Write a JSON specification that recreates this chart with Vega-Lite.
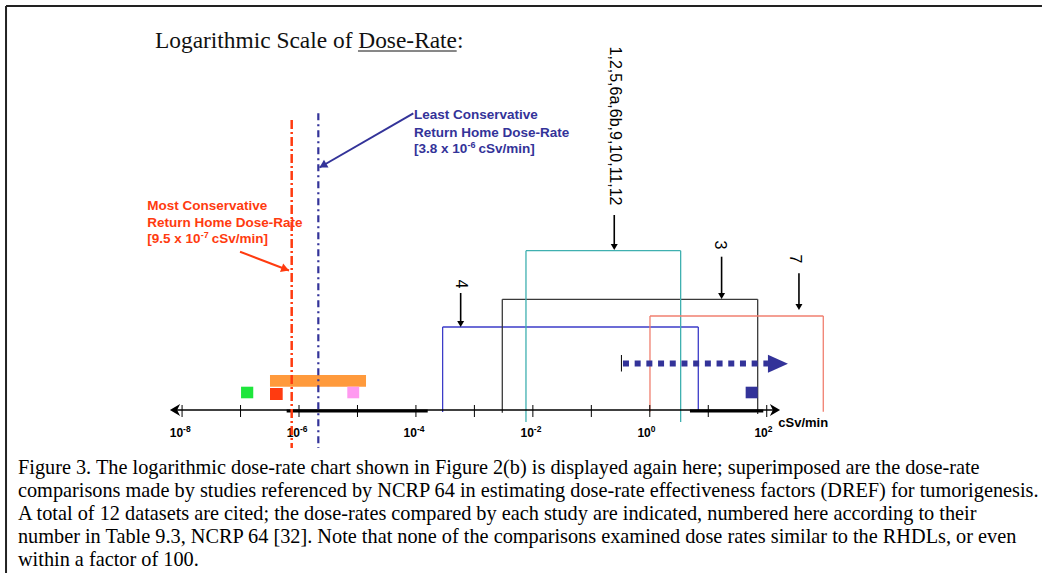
{
  "$schema": "https://vega.github.io/schema/vega-lite/v6.json",
  "width": 1042,
  "height": 573,
  "autosize": {"type": "none"},
  "padding": 0,
  "background": "white",
  "config": {"view": {"stroke": null}},
  "resolve": {"scale": {"color": "independent"}},
  "datasets": {
    "frame": [
      {"x": 9.75e-12, "x2": 5.1e6, "y": 404, "y2": 404},
      {"x": 9.75e-12, "x2": 9.75e-12, "y": 404, "y2": -163}
    ],
    "title": [{"x": 3.44e-9, "y": 362, "t": "Logarithmic Scale of Dose-Rate:"}],
    "underline": [{"x": 1.02e-5, "x2": 4.98e-4, "y": 359, "y2": 359}],
    "brackets": [
      {"b": "4", "x": 2.86e-4, "x2": 2.86e-4, "y": -2, "y2": 83},
      {"b": "4", "x": 2.86e-4, "x2": 6.75, "y": 83, "y2": 83},
      {"b": "4", "x": 6.75, "x2": 6.75, "y": 83, "y2": -1.5},
      {"b": "3", "x": 3.0e-3, "x2": 3.0e-3, "y": -2.7, "y2": 110.7},
      {"b": "3", "x": 3.0e-3, "x2": 70.0, "y": 110.7, "y2": 110.7},
      {"b": "3", "x": 70.0, "x2": 70.0, "y": 110.7, "y2": -4},
      {"b": "1-12", "x": 7.62e-3, "x2": 7.62e-3, "y": -12, "y2": 159.3},
      {"b": "1-12", "x": 7.62e-3, "x2": 3.37, "y": 159.3, "y2": 159.3},
      {"b": "1-12", "x": 3.37, "x2": 3.37, "y": 159.3, "y2": -12},
      {"b": "7", "x": 1.007, "x2": 1.007, "y": -1.7, "y2": 94},
      {"b": "7", "x": 1.007, "x2": 927, "y": 94, "y2": 94},
      {"b": "7", "x": 927, "x2": 927, "y": 94, "y2": -1.7}
    ],
    "axisline": [{"x": 6.73e-9, "x2": 155.6, "y": 0, "y2": 0}],
    "axisthick": [
      {"x": 6.15e-7, "x2": 1.59e-4, "y": -1, "y2": -1},
      {"x": 4.86, "x2": 87.3, "y": -1, "y2": -1}
    ],
    "ticks": [
      {"x": 1e-8, "y": 5, "y2": -7}, {"x": 1e-7, "y": 5, "y2": -7},
      {"x": 1e-6, "y": 5, "y2": -7}, {"x": 1e-5, "y": 5, "y2": -7},
      {"x": 1e-4, "y": 5, "y2": -7}, {"x": 1e-3, "y": 5, "y2": -7},
      {"x": 1e-2, "y": 5, "y2": -7}, {"x": 1e-1, "y": 5, "y2": -7},
      {"x": 1, "y": 5, "y2": -7}, {"x": 10, "y": 5, "y2": -7},
      {"x": 100, "y": 5, "y2": -7}
    ],
    "ticklabels": [
      {"x": 1e-8, "y": -23, "b": "10", "e": "-8"},
      {"x": 1e-6, "y": -23, "b": "10", "e": "-6"},
      {"x": 1e-4, "y": -23, "b": "10", "e": "-4"},
      {"x": 1e-2, "y": -23, "b": "10", "e": "-2"},
      {"x": 1, "y": -23, "b": "10", "e": "0"},
      {"x": 100, "y": -23, "b": "10", "e": "2"}
    ],
    "unit": [{"x": 157.4, "y": -12.7, "t": "cSv/min"}],
    "arrowL": [{"x": 7.57e-9, "y": 0}],
    "arrowR": [{"x": 138.3, "y": 0}],
    "redline": [{"x": 7.5e-7, "y": 290, "y2": -38}],
    "blueline": [{"x": 2.14e-6, "y": 296.7, "y2": -38}],
    "bluetext": [
      {"x": 9.27e-5, "y": 295, "t": "Least Conservative"},
      {"x": 9.27e-5, "y": 277.3, "t": "Return Home Dose-Rate"}
    ],
    "bluerate": [{"x": 9.27e-5, "y": 260.7, "a": "[3.8 x 10", "e": "-6", "c": "cSv/min]"}],
    "redtext": [
      {"x": 2.54e-9, "y": 204, "t": "Most Conservative"},
      {"x": 2.54e-9, "y": 187.3, "t": "Return Home Dose-Rate"}
    ],
    "redrate": [{"x": 2.54e-9, "y": 170.7, "a": "[9.5 x 10", "e": "-7", "c": "cSv/min]"}],
    "bluearrow": [{"x": 9.02e-5, "x2": 2.24e-6, "y": 296.7, "y2": 242.5}],
    "bluehead": [{"x": 2.56e-6, "y": 244.5}],
    "redarrow": [{"x": 9.8e-8, "x2": 6.75e-7, "y": 158.3, "y2": 139.5}],
    "redhead": [{"x": 5.82e-7, "y": 140.9}],
    "boxes": [
      {"k": "orange", "x": 3.19e-7, "x2": 1.4e-5, "y": 35, "y2": 23.3},
      {"k": "green", "x": 1.02e-7, "x2": 1.65e-7, "y": 23.3, "y2": 11.7},
      {"k": "red", "x": 3.19e-7, "x2": 5.26e-7, "y": 22, "y2": 10},
      {"k": "pink", "x": 6.7e-6, "x2": 1.07e-5, "y": 23.3, "y2": 11.7},
      {"k": "navy", "x": 43.6, "x2": 70.0, "y": 23.3, "y2": 11.7}
    ],
    "dotted": [{"x": 0.3475, "x2": 105, "y": 46.5, "y2": 46.5}],
    "dottedstart": [{"x": 0.327, "y": 55, "y2": 38.5}],
    "dottedhead": [{"x": 155.6, "y": 46.2}],
    "shafts": [
      {"x": 5.82e-4, "y": 117, "y2": 86},
      {"x": 16.9, "y": 153.3, "y2": 113},
      {"x": 355.6, "y": 136.7, "y2": 102},
      {"x": 0.2466, "y": 195, "y2": 162}
    ],
    "heads": [
      {"x": 5.82e-4, "y": 86},
      {"x": 16.9, "y": 114},
      {"x": 355.6, "y": 103},
      {"x": 0.2466, "y": 163}
    ],
    "rotlabels": [
      {"x": 5.8e-4, "y": 126, "t": "4"},
      {"x": 15.85, "y": 165, "t": "3"},
      {"x": 304, "y": 151, "t": "7"},
      {"x": 0.25, "y": 284, "t": "1,2,5,6a,6b,9,10,11,12"}
    ],
    "caption": [
      {"x": 1.56e-11, "y": -58, "t": "Figure 3.  The logarithmic dose-rate chart shown in Figure 2(b) is displayed again here; superimposed are the dose-rate"},
      {"x": 1.56e-11, "y": -81, "t": "comparisons made by studies referenced by NCRP 64 in estimating dose-rate effectiveness factors (DREF) for tumorigenesis."},
      {"x": 1.56e-11, "y": -104, "t": "A total of 12 datasets are cited; the dose-rates compared by each study are indicated, numbered here according to their"},
      {"x": 1.56e-11, "y": -127, "t": "number in Table 9.3, NCRP 64 [32].  Note that none of the comparisons examined dose rates similar to the RHDLs, or even"},
      {"x": 1.56e-11, "y": -150, "t": "within a factor of 100."}
    ]
  },
  "encoding": {
    "x": {"field": "x", "type": "quantitative", "scale": {"type": "log", "domain": [7.69e-12, 5.105e6], "nice": false}, "axis": null},
    "y": {"field": "y", "type": "quantitative", "scale": {"domain": [-163, 410], "nice": false, "zero": false}, "axis": null}
  },
  "layer": [
    {"data": {"name": "frame"}, "mark": {"type": "rule", "color": "#222222", "strokeWidth": 2}, "encoding": {"x2": {"field": "x2"}, "y2": {"field": "y2"}}},
    {"data": {"name": "title"}, "mark": {"type": "text", "font": "Liberation Serif", "fontSize": 23.4, "align": "left", "baseline": "alphabetic", "color": "#111111"}, "encoding": {"text": {"field": "t"}}},
    {"data": {"name": "underline"}, "mark": {"type": "rule", "color": "#111111", "strokeWidth": 1}, "encoding": {"x2": {"field": "x2"}, "y2": {"field": "y2"}}},
    {"data": {"name": "brackets"}, "mark": {"type": "rule", "strokeWidth": 1.3}, "encoding": {"x2": {"field": "x2"}, "y2": {"field": "y2"}, "color": {"field": "b", "type": "nominal", "legend": null, "scale": {"domain": ["4", "3", "1-12", "7"], "range": ["#3b3bc8", "#3a3a3a", "#3fb0b0", "#f07f6f"]}}}},
    {"data": {"name": "axisline"}, "mark": {"type": "rule", "color": "#000000", "strokeWidth": 1.5}, "encoding": {"x2": {"field": "x2"}, "y2": {"field": "y2"}}},
    {"data": {"name": "axisthick"}, "mark": {"type": "rule", "color": "#000000", "strokeWidth": 3}, "encoding": {"x2": {"field": "x2"}, "y2": {"field": "y2"}}},
    {"data": {"name": "ticks"}, "mark": {"type": "rule", "color": "#000000", "strokeWidth": 1}, "encoding": {"y2": {"field": "y2"}}},
    {"data": {"name": "ticklabels"}, "mark": {"type": "text", "font": "Liberation Sans", "fontWeight": "bold", "fontSize": 12, "align": "right", "baseline": "middle", "dx": 1, "color": "#000000"}, "encoding": {"text": {"field": "b"}}},
    {"data": {"name": "ticklabels"}, "mark": {"type": "text", "font": "Liberation Sans", "fontWeight": "bold", "fontSize": 8.5, "align": "left", "baseline": "middle", "dx": 1, "dy": -4, "color": "#000000"}, "encoding": {"text": {"field": "e"}}},
    {"data": {"name": "unit"}, "mark": {"type": "text", "font": "Liberation Sans", "fontWeight": "bold", "fontSize": 13, "align": "left", "baseline": "middle", "color": "#000000"}, "encoding": {"text": {"field": "t"}}},
    {"data": {"name": "arrowL"}, "mark": {"type": "point", "shape": "M-0.85,0L0.85,-1L0.35,0L0.85,1Z", "size": 144, "filled": true, "color": "#000000", "opacity": 1}, "encoding": {}},
    {"data": {"name": "arrowR"}, "mark": {"type": "point", "shape": "M0.85,0L-0.85,-1L-0.35,0L-0.85,1Z", "size": 144, "filled": true, "color": "#000000", "opacity": 1}, "encoding": {}},
    {"data": {"name": "boxes"}, "mark": {"type": "rect"}, "encoding": {"x2": {"field": "x2"}, "y2": {"field": "y2"}, "color": {"field": "k", "type": "nominal", "legend": null, "scale": {"domain": ["orange", "green", "red", "pink", "navy"], "range": ["#ff9a3c", "#1ee63c", "#ff3b10", "#ff99f0", "#333399"]}}}},
    {"data": {"name": "redline"}, "mark": {"type": "rule", "color": "#ff3b10", "strokeWidth": 2.5, "strokeDash": [9, 3, 2, 3]}, "encoding": {"y2": {"field": "y2"}}},
    {"data": {"name": "blueline"}, "mark": {"type": "rule", "color": "#333399", "strokeWidth": 2.2, "strokeDash": [7, 4, 2, 4]}, "encoding": {"y2": {"field": "y2"}}},
    {"data": {"name": "bluetext"}, "mark": {"type": "text", "font": "Liberation Sans", "fontWeight": "bold", "fontSize": 13.5, "align": "left", "baseline": "middle", "color": "#333399"}, "encoding": {"text": {"field": "t"}}},
    {"data": {"name": "bluerate"}, "mark": {"type": "text", "font": "Liberation Sans", "fontWeight": "bold", "fontSize": 13.5, "align": "left", "baseline": "middle", "color": "#333399"}, "encoding": {"text": {"field": "a"}}},
    {"data": {"name": "bluerate"}, "mark": {"type": "text", "font": "Liberation Sans", "fontWeight": "bold", "fontSize": 9, "align": "left", "baseline": "middle", "dx": 53.5, "dy": -4, "color": "#333399"}, "encoding": {"text": {"field": "e"}}},
    {"data": {"name": "bluerate"}, "mark": {"type": "text", "font": "Liberation Sans", "fontWeight": "bold", "fontSize": 13.5, "align": "left", "baseline": "middle", "dx": 64.5, "color": "#333399"}, "encoding": {"text": {"field": "c"}}},
    {"data": {"name": "redtext"}, "mark": {"type": "text", "font": "Liberation Sans", "fontWeight": "bold", "fontSize": 13.5, "align": "left", "baseline": "middle", "color": "#ff3b10"}, "encoding": {"text": {"field": "t"}}},
    {"data": {"name": "redrate"}, "mark": {"type": "text", "font": "Liberation Sans", "fontWeight": "bold", "fontSize": 13.5, "align": "left", "baseline": "middle", "color": "#ff3b10"}, "encoding": {"text": {"field": "a"}}},
    {"data": {"name": "redrate"}, "mark": {"type": "text", "font": "Liberation Sans", "fontWeight": "bold", "fontSize": 9, "align": "left", "baseline": "middle", "dx": 53.5, "dy": -4, "color": "#ff3b10"}, "encoding": {"text": {"field": "e"}}},
    {"data": {"name": "redrate"}, "mark": {"type": "text", "font": "Liberation Sans", "fontWeight": "bold", "fontSize": 13.5, "align": "left", "baseline": "middle", "dx": 64.5, "color": "#ff3b10"}, "encoding": {"text": {"field": "c"}}},
    {"data": {"name": "bluearrow"}, "mark": {"type": "rule", "color": "#333399", "strokeWidth": 2}, "encoding": {"x2": {"field": "x2"}, "y2": {"field": "y2"}}},
    {"data": {"name": "bluehead"}, "mark": {"type": "point", "shape": "triangle-right", "size": 81, "angle": 149.9, "filled": true, "color": "#333399", "opacity": 1}, "encoding": {}},
    {"data": {"name": "redarrow"}, "mark": {"type": "rule", "color": "#ff3b10", "strokeWidth": 2}, "encoding": {"x2": {"field": "x2"}, "y2": {"field": "y2"}}},
    {"data": {"name": "redhead"}, "mark": {"type": "point", "shape": "triangle-right", "size": 81, "angle": 20.8, "filled": true, "color": "#ff3b10", "opacity": 1}, "encoding": {}},
    {"data": {"name": "dotted"}, "mark": {"type": "rule", "color": "#333399", "strokeWidth": 6, "strokeDash": [6, 5.7]}, "encoding": {"x2": {"field": "x2"}, "y2": {"field": "y2"}}},
    {"data": {"name": "dottedstart"}, "mark": {"type": "rule", "color": "#000000", "strokeWidth": 1}, "encoding": {"y2": {"field": "y2"}}},
    {"data": {"name": "dottedhead"}, "mark": {"type": "point", "shape": "M1,0L-1,-0.9L-1,0.9Z", "size": 400, "filled": true, "color": "#333399", "opacity": 1}, "encoding": {}},
    {"data": {"name": "shafts"}, "mark": {"type": "rule", "color": "#000000", "strokeWidth": 1.6}, "encoding": {"y2": {"field": "y2"}}},
    {"data": {"name": "heads"}, "mark": {"type": "point", "shape": "triangle-down", "size": 49, "filled": true, "color": "#000000", "opacity": 1}, "encoding": {}},
    {"data": {"name": "rotlabels"}, "mark": {"type": "text", "font": "Liberation Sans", "fontSize": 16, "angle": 90, "align": "center", "baseline": "middle", "color": "#000000"}, "encoding": {"text": {"field": "t"}}},
    {"data": {"name": "caption"}, "mark": {"type": "text", "font": "Liberation Serif", "fontSize": 20.3, "align": "left", "baseline": "middle", "color": "#000000"}, "encoding": {"text": {"field": "t"}}}
  ]
}
